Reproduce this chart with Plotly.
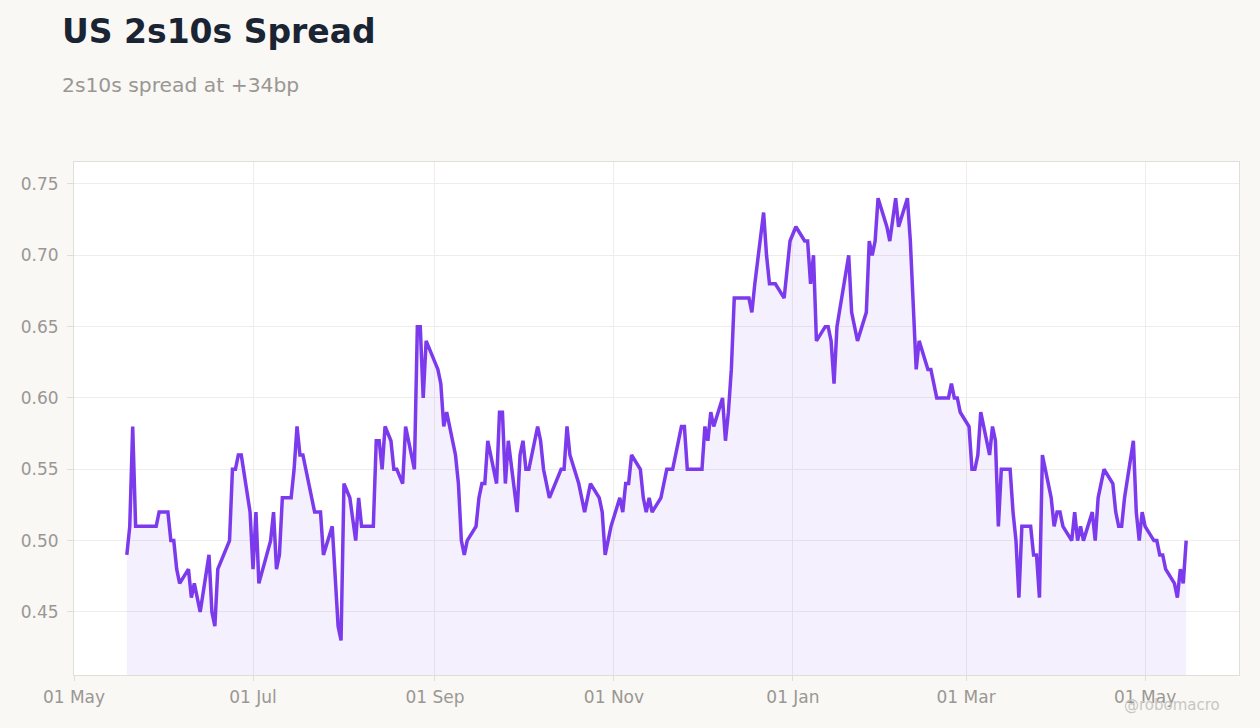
import plotly.graph_objects as go

dates = [
"2024-05-19","2024-05-20","2024-05-21","2024-05-22","2024-05-29","2024-05-30","2024-06-02","2024-06-03","2024-06-04","2024-06-05",
"2024-06-06","2024-06-09","2024-06-10","2024-06-11","2024-06-13","2024-06-16","2024-06-17","2024-06-18","2024-06-19","2024-06-23",
"2024-06-24","2024-06-25","2024-06-26","2024-06-27","2024-06-30","2024-07-01","2024-07-02","2024-07-03","2024-07-07","2024-07-08",
"2024-07-09","2024-07-10","2024-07-11","2024-07-14","2024-07-15","2024-07-16","2024-07-17","2024-07-18","2024-07-22","2024-07-24",
"2024-07-25","2024-07-28","2024-07-30","2024-07-31","2024-08-01","2024-08-03","2024-08-05","2024-08-06","2024-08-07","2024-08-11",
"2024-08-12","2024-08-13","2024-08-14","2024-08-15","2024-08-17","2024-08-18","2024-08-19","2024-08-21","2024-08-22","2024-08-25",
"2024-08-26","2024-08-27","2024-08-28","2024-08-29","2024-09-02","2024-09-03","2024-09-04","2024-09-05","2024-09-08","2024-09-09",
"2024-09-10","2024-09-11","2024-09-12","2024-09-15","2024-09-16","2024-09-17","2024-09-18","2024-09-19","2024-09-22","2024-09-23",
"2024-09-24","2024-09-25","2024-09-26","2024-09-29","2024-09-30","2024-10-01","2024-10-02","2024-10-03","2024-10-06","2024-10-07",
"2024-10-08","2024-10-10","2024-10-14","2024-10-15","2024-10-16","2024-10-17","2024-10-20","2024-10-22","2024-10-24","2024-10-27",
"2024-10-28","2024-10-29","2024-10-31","2024-11-03","2024-11-04","2024-11-05","2024-11-06","2024-11-07","2024-11-10","2024-11-11",
"2024-11-12","2024-11-13","2024-11-14","2024-11-17","2024-11-19","2024-11-21","2024-11-24","2024-11-25","2024-11-26","2024-12-01",
"2024-12-02","2024-12-03","2024-12-04","2024-12-05","2024-12-08","2024-12-09","2024-12-10","2024-12-11","2024-12-12","2024-12-16",
"2024-12-17","2024-12-18","2024-12-19","2024-12-22","2024-12-23","2024-12-24","2024-12-26","2024-12-29","2024-12-30","2024-12-31",
"2025-01-02","2025-01-05","2025-01-06","2025-01-07","2025-01-08","2025-01-09","2025-01-12","2025-01-13","2025-01-14","2025-01-15",
"2025-01-16","2025-01-20","2025-01-21","2025-01-23","2025-01-26","2025-01-27","2025-01-28","2025-01-29","2025-01-30","2025-02-02",
"2025-02-03","2025-02-05","2025-02-06","2025-02-09","2025-02-10","2025-02-11","2025-02-12","2025-02-13","2025-02-16","2025-02-17",
"2025-02-18","2025-02-19","2025-02-22","2025-02-23","2025-02-24","2025-02-25","2025-02-26","2025-02-27","2025-03-02","2025-03-03",
"2025-03-04","2025-03-05","2025-03-06","2025-03-09","2025-03-10","2025-03-11","2025-03-12","2025-03-13","2025-03-16","2025-03-17",
"2025-03-18","2025-03-19","2025-03-20","2025-03-23","2025-03-24","2025-03-25","2025-03-26","2025-03-27","2025-03-30","2025-03-31",
"2025-04-01","2025-04-02","2025-04-03","2025-04-06","2025-04-07","2025-04-08","2025-04-09","2025-04-10","2025-04-13","2025-04-14",
"2025-04-15","2025-04-17","2025-04-20","2025-04-21","2025-04-22","2025-04-23","2025-04-24","2025-04-27","2025-04-28","2025-04-29",
"2025-04-30","2025-05-01","2025-05-04","2025-05-05","2025-05-06","2025-05-07","2025-05-08","2025-05-11","2025-05-12","2025-05-13",
"2025-05-14","2025-05-15",
]

spread = [
0.49,0.51,0.58,0.51,0.51,0.52,0.52,0.50,0.50,0.48,
0.47,0.48,0.46,0.47,0.45,0.49,0.45,0.44,0.48,0.50,
0.55,0.55,0.56,0.56,0.52,0.48,0.52,0.47,0.50,0.52,
0.48,0.49,0.53,0.53,0.55,0.58,0.56,0.56,0.52,0.52,
0.49,0.51,0.44,0.43,0.54,0.53,0.50,0.53,0.51,0.51,
0.57,0.57,0.55,0.58,0.57,0.55,0.55,0.54,0.58,0.55,
0.65,0.65,0.60,0.64,0.62,0.61,0.58,0.59,0.56,0.54,
0.50,0.49,0.50,0.51,0.53,0.54,0.54,0.57,0.54,0.59,
0.59,0.54,0.57,0.52,0.56,0.57,0.55,0.55,0.58,0.57,
0.55,0.53,0.55,0.55,0.58,0.56,0.54,0.52,0.54,0.53,
0.52,0.49,0.51,0.53,0.52,0.54,0.54,0.56,0.55,0.53,
0.52,0.53,0.52,0.53,0.55,0.55,0.58,0.58,0.55,0.55,
0.58,0.57,0.59,0.58,0.60,0.57,0.59,0.62,0.67,0.67,
0.67,0.66,0.68,0.73,0.70,0.68,0.68,0.67,0.69,0.71,
0.72,0.71,0.71,0.68,0.70,0.64,0.65,0.65,0.64,0.61,
0.65,0.70,0.66,0.64,0.66,0.71,0.70,0.71,0.74,0.72,
0.71,0.74,0.72,0.74,0.71,0.66,0.62,0.64,0.62,0.62,
0.61,0.60,0.60,0.60,0.61,0.60,0.60,0.59,0.58,0.55,
0.55,0.56,0.59,0.56,0.58,0.57,0.51,0.55,0.55,0.52,
0.50,0.46,0.51,0.51,0.49,0.49,0.46,0.56,0.53,0.51,
0.52,0.52,0.51,0.50,0.52,0.50,0.51,0.50,0.52,0.50,
0.53,0.55,0.54,0.52,0.51,0.51,0.53,0.57,0.52,0.50,
0.52,0.51,0.50,0.50,0.49,0.49,0.48,0.47,0.46,0.48,
0.47,0.50,
]

title_text = "US 2s10s Spread"
subtitle_text = "2s10s spread at +34bp"
watermark = "@robomacro"

FONT = "DejaVu Sans"
LINE = "#7c3aed"
GRID = "#efedea"
AXIS = "#e2ddd6"
TICKC = "#9a9793"

fig = go.Figure()
fig.add_trace(go.Scatter(
    x=dates, y=spread, mode="lines",
    line=dict(color=LINE, width=3.5),
    fill="tozeroy", fillcolor="rgba(124,58,237,0.08)",
    hoverinfo="x+y", showlegend=False,
))

fig.update_layout(
    width=1260, height=728,
    margin=dict(l=74, r=21, t=162, b=53),
    paper_bgcolor="#f9f8f5",
    plot_bgcolor="#ffffff",
    font=dict(family=FONT, size=17, color=TICKC),
    showlegend=False,
    annotations=[
        dict(text="<b>" + title_text + "</b>", xref="paper", yref="paper",
             x=-0.0122, y=1.255, xanchor="left", yanchor="middle", showarrow=False,
             font=dict(family=FONT, size=33, color="#1a2433")),
        dict(text=subtitle_text, xref="paper", yref="paper",
             x=-0.0122, y=1.150, xanchor="left", yanchor="middle", showarrow=False,
             font=dict(family=FONT, size=20.3, color="#9a9793")),
        dict(text=watermark, xref="paper", yref="paper",
             x=0.9854, y=-0.0585, xanchor="right", yanchor="middle", showarrow=False,
             font=dict(family=FONT, size=15, color="#c9c6c2")),
    ],
)

fig.update_xaxes(
    type="date", range=["2024-05-01", "2025-06-02"],
    tick0="2024-05-01", dtick="M2", tickformat="%d %b",
    showgrid=True, gridcolor=GRID, gridwidth=1,
    showline=True, linecolor=AXIS, linewidth=1, mirror=True,
    ticks="outside", ticklen=5, tickcolor=AXIS,
    ticklabelstandoff=2,
    tickfont=dict(family=FONT, size=17, color=TICKC),
    zeroline=False,
)
fig.update_yaxes(
    range=[0.4058, 0.7654], tick0=0.45, dtick=0.05, tickformat=".2f",
    showgrid=True, gridcolor=GRID, gridwidth=1,
    showline=True, linecolor=AXIS, linewidth=1, mirror=True,
    ticks="outside", ticklen=6, tickcolor=AXIS,
    ticklabelstandoff=5,
    tickfont=dict(family=FONT, size=17, color=TICKC),
    zeroline=False,
)

fig.write_html("out.html")
